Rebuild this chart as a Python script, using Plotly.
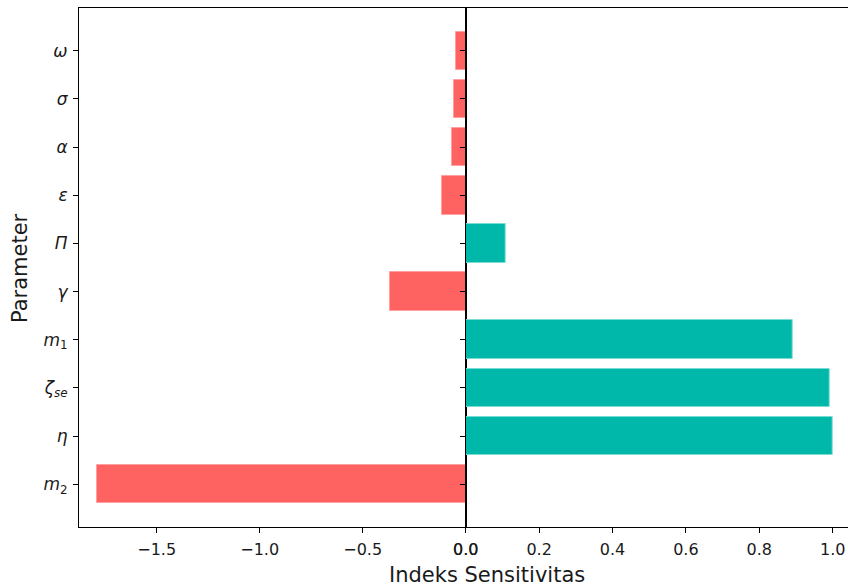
import plotly.graph_objects as go

# Data (bottom to top)
params = ["m2", "eta", "zeta_se", "m1", "gamma", "Pi", "epsilon", "alpha", "sigma", "omega"]
param_labels = ["<i>m</i><sub>2</sub>", "<i>η</i>", "<i>ζ</i><sub><i>se</i></sub>", "<i>m</i><sub>1</sub>",
                "<i>γ</i>", "<i>Π</i>", "<i>ε</i>", "<i>α</i>", "<i>σ</i>", "<i>ω</i>"]
sensitivity = [-1.791, 1.0, 0.992, 0.890, -0.367, 0.108, -0.115, -0.065, -0.058, -0.046]

left_ticks = [-1.5, -1.0, -0.5, 0.0]
left_ticktext = ["\u22121.5", "\u22121.0", "\u22120.5", "0.0"]
right_ticks = [0.0, 0.2, 0.4, 0.6, 0.8, 1.0]
right_ticktext = ["0.0", "0.2", "0.4", "0.6", "0.8", "1.0"]

RED = "#ff6361"
TEAL = "#00b8a9"

W, H = 848, 588
neg_idx = [i for i, v in enumerate(sensitivity) if v < 0]
pos_idx = [i for i, v in enumerate(sensitivity) if v >= 0]

fig = go.Figure()
fig.add_trace(go.Bar(
    x=[sensitivity[i] for i in neg_idx], y=[i for i in neg_idx], orientation="h",
    width=0.8, marker=dict(color=RED, line=dict(color="rgba(255,160,158,1)", width=1)),
    xaxis="x", yaxis="y", showlegend=False))
fig.add_trace(go.Bar(
    x=[sensitivity[i] for i in pos_idx], y=[i for i in pos_idx], orientation="h",
    width=0.8, marker=dict(color=TEAL, line=dict(color="rgba(120,220,212,1)", width=1)),
    xaxis="x2", yaxis="y2", showlegend=False))

font = dict(family="DejaVu Sans", size=16, color="#1a1a1a")
x_split = 465.7
common = dict(ticks="outside", ticklen=5, tickcolor="#000", showline=True, linecolor="#000",
              linewidth=1, showgrid=False, zeroline=False, automargin=False)
fig.update_layout(
    width=W, height=H,
    margin=dict(l=0, r=0, t=0, b=0),
    paper_bgcolor="white", plot_bgcolor="white",
    font=font,
    bargap=0,
    xaxis=dict(domain=[79 / W, x_split / W], range=[-1.877, 0],
               tickvals=left_ticks, ticktext=left_ticktext, ticklabelstandoff=3,
               mirror=True, anchor="y", tickfont=font, **common),
    xaxis2=dict(domain=[x_split / W, 1.0], range=[0, (W - x_split) / 367.0],
                tickvals=right_ticks, ticktext=right_ticktext, ticklabelstandoff=3,
                mirror=True, anchor="y2", tickfont=font, **common),
    yaxis=dict(domain=[1 - 527 / H, 1 - 8 / H], range=[-0.89, 9.89],
               tickvals=list(range(len(params))), ticktext=param_labels, ticklabelstandoff=2,
               mirror=True, anchor="x",
               tickfont=dict(family="DejaVu Sans", size=17, color="#1a1a1a"), **common),
    yaxis2=dict(domain=[1 - 527 / H, 1 - 8 / H], range=[-0.89, 9.89],
                tickvals=list(range(len(params))), showticklabels=False,
                anchor="x2", **common),
    annotations=[
        dict(text="Indeks Sensitivitas", x=487 / W, y=1 - 575 / H, xref="paper", yref="paper",
             showarrow=False, font=dict(family="DejaVu Sans", size=21, color="#1a1a1a"),
             xanchor="center", yanchor="middle"),
        dict(text="Parameter", x=20 / W, y=1 - 268 / H, xref="paper", yref="paper",
             showarrow=False, textangle=-90, font=dict(family="DejaVu Sans", size=21, color="#1a1a1a"),
             xanchor="center", yanchor="middle"),
    ],
)

fig.write_html("out.html", config={"displayModeBar": False},
               post_script="document.body.style.margin='0px';")
